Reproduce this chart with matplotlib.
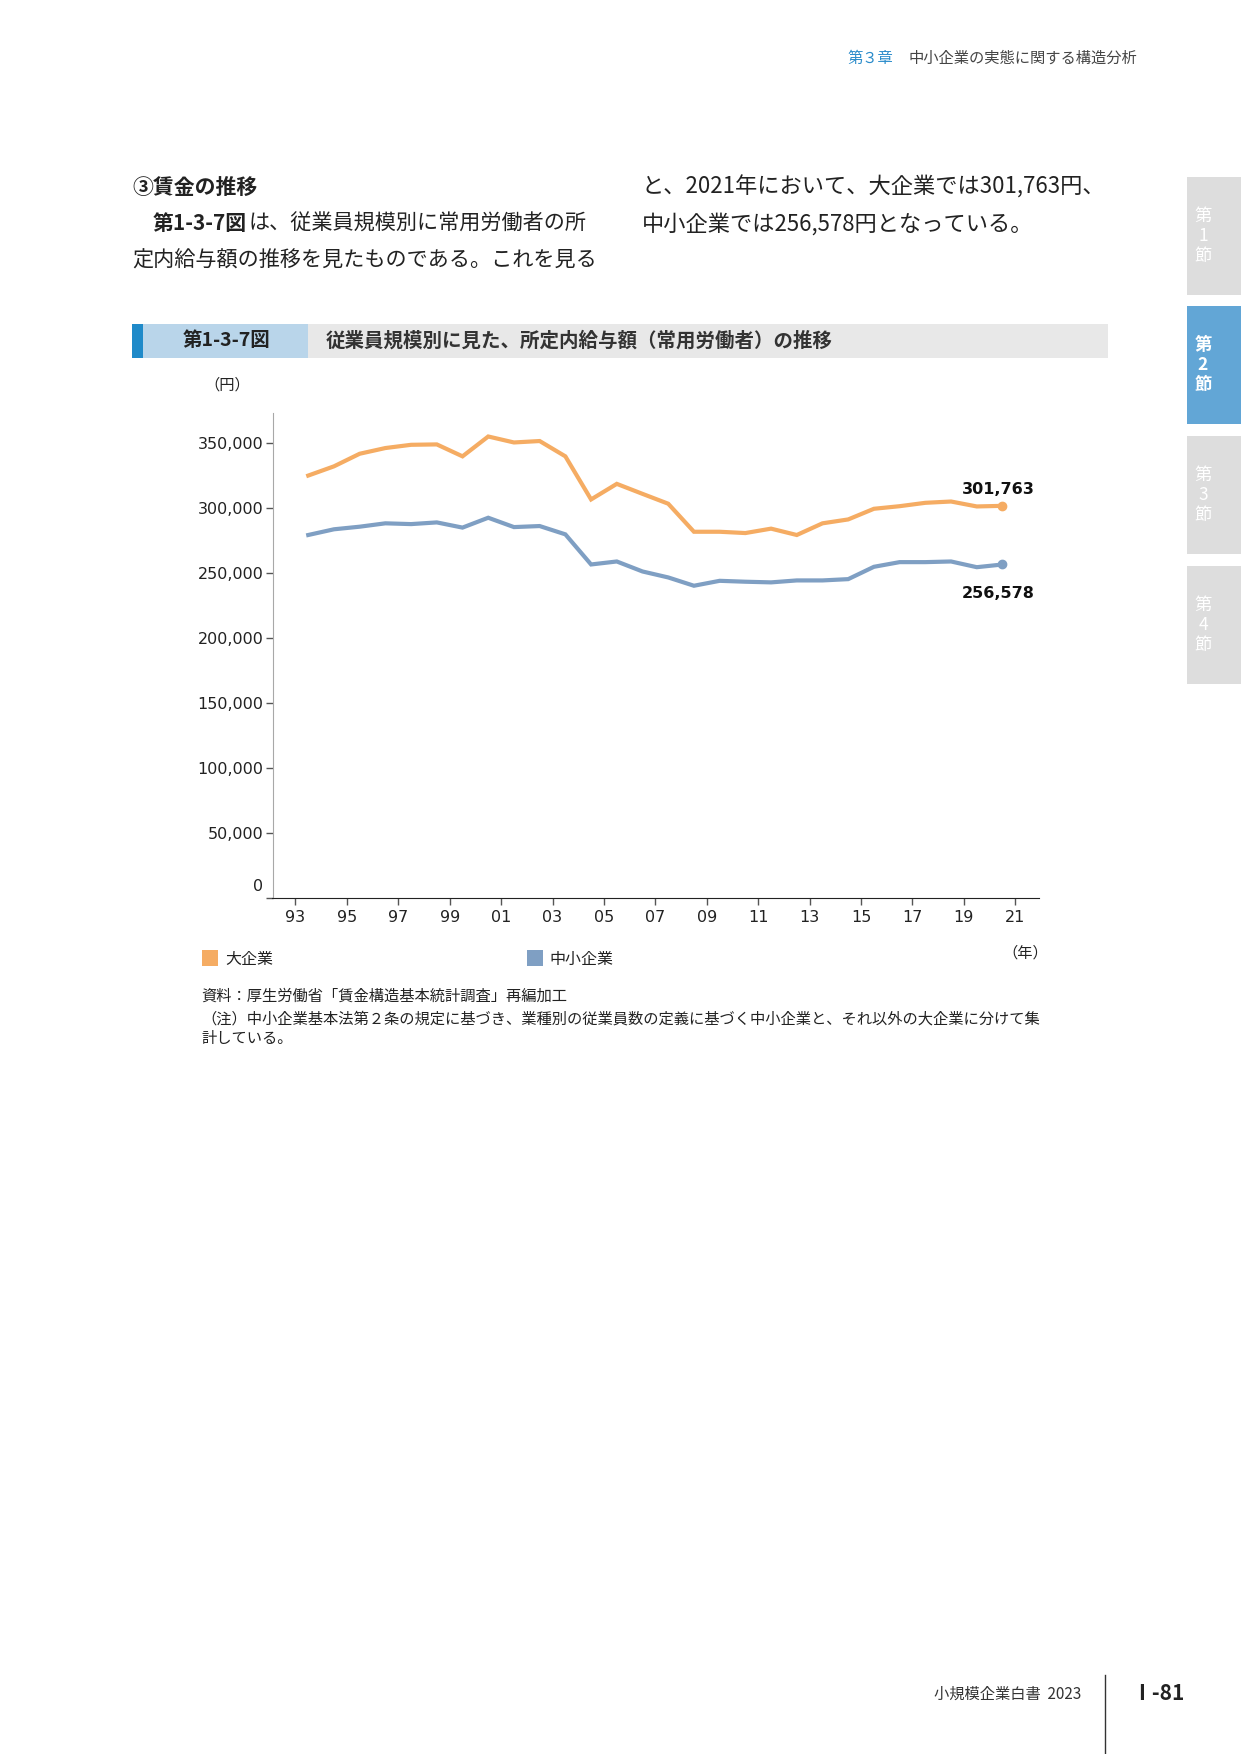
import numpy as np
import matplotlib.pyplot as plt
from matplotlib.patches import Rectangle
from matplotlib.lines import Line2D

JP = ['Noto Sans CJK JP', 'DejaVu Sans']
plt.rcParams['font.family'] = ['DejaVu Sans', 'Noto Sans CJK JP']

# data (yen / month)
years = list(range(1994, 2022))
large = [325100, 332200, 341900, 346300, 348800, 349100, 339900, 355200, 350600,
         351700, 339900, 306700, 318700, 311000, 303400, 281800, 281800, 280800,
         284200, 279300, 288300, 291300, 299500, 301500, 304100, 305100, 301300,
         301763]
small = [279300, 283700, 285700, 288300, 287700, 289000, 285000, 292600, 285400,
         286200, 279800, 256600, 258900, 251200, 246600, 240200, 244000, 243300,
         242800, 244300, 244300, 245300, 254800, 258400, 258400, 258900, 254500,
         256578]
series_names = ['大企業', '中小企業']
tick_years = list(range(1993, 2022, 2))
y_ticks = list(range(0, 350001, 50000))

c_large = '#F5AC63'
c_small = '#7F9FC3'

W, H = 1241, 1754
fig = plt.figure(figsize=(W / 100, H / 100), dpi=100)


def fx(px):
    return px / W


def fy(py):
    return 1 - py / H


def rect(x0, y0, x1, y1, color):
    fig.add_artist(Rectangle((fx(x0), fy(y1)), fx(x1) - fx(x0), fy(y0) - fy(y1),
                             transform=fig.transFigure, facecolor=color,
                             edgecolor='none'))


# ---- page header / body text
fig.text(fx(847), fy(58), '第３章', family=JP, fontsize=11, color='#2B8CCB', va='center')
fig.text(fx(909), fy(58), '中小企業の実態に関する構造分析', family=JP, fontsize=11,
         color='#444444', va='center')

fig.text(fx(132), fy(187), '③賃金の推移', family=JP, fontsize=15, weight='bold',
         color='#222222', va='center')
bold_ref = fig.text(fx(153), fy(224), '第1-3-7図', family=JP, fontsize=15,
                    weight='bold', color='#222222', va='center')
fig.add_artist(plt.Annotation('は、従業員規模別に常用労働者の所', xy=(1, 0.5),
                              xycoords=bold_ref, xytext=(1, 0),
                              textcoords='offset points', va='center',
                              family=JP, fontsize=15.2, color='#222222'))
fig.text(fx(132), fy(261), '定内給与額の推移を見たものである。これを見る', family=JP,
         fontsize=15.2, color='#222222', va='center')
fig.text(fx(642), fy(187), 'と、2021年において、大企業では301,763円、', family=JP,
         fontsize=16, color='#222222', va='center')
fig.text(fx(642), fy(224), '中小企業では256,578円となっている。', family=JP,
         fontsize=16, color='#222222', va='center')

# ---- title bar
rect(132, 324, 1108, 358, '#E8E8E8')
rect(143, 324, 308, 358, '#B9D5EA')
rect(132, 324, 143, 358, '#1F8AC9')
fig.text(fx(227), fy(341), '第1-3-7図', family=JP, fontsize=14, weight='bold',
         color='#222222', ha='center', va='center')
fig.text(fx(326), fy(341), '従業員規模別に見た、所定内給与額（常用労働者）の推移',
         family=JP, fontsize=14, weight='bold', color='#333333', va='center')

# ---- side tabs
tabs = [(177, 295, '1'), (306, 424, '2'), (436, 554, '3'), (566, 684, '4')]
for top, bot, num in tabs:
    active = num == '2'
    rect(1187, top, W, bot, '#62A6D6' if active else '#DDDDDD')
    cy = (top + bot) / 2
    for dy, ch in [(-20, '第'), (0, num), (20, '節')]:
        fig.text(fx(1203), fy(cy + dy), ch, family=JP, fontsize=12.5,
                 weight='bold' if active else 'normal', color='white',
                 ha='center', va='center')

# ---- chart
ax = fig.add_axes([fx(272.5), fy(897.5), fx(1039) - fx(272.5), fy(413) - fy(897.5)])
x = np.array(years) - 0.5
ax.plot(x, large, color=c_large, lw=3, solid_joinstyle='miter')
ax.plot(x, small, color=c_small, lw=3, solid_joinstyle='miter')
ax.plot(x[-1], large[-1], 'o', color=c_large, ms=6)
ax.plot(x[-1], small[-1], 'o', color=c_small, ms=6)

ax.annotate(f'{large[-1]:,}', xy=(x[-1], large[-1]), xytext=(-3, 12),
            textcoords='offset points', ha='center', va='center',
            fontsize=11.5, weight='bold', color='#111111')
ax.annotate(f'{small[-1]:,}', xy=(x[-1], small[-1]), xytext=(-3, -21),
            textcoords='offset points', ha='center', va='center',
            fontsize=11.5, weight='bold', color='#111111')

ax.set_xlim(1992.11, 2021.92)
ax.set_ylim(0, 373300)
ax.set_xticks(tick_years, [f'{y % 100:02d}' for y in tick_years])
ax.set_yticks(y_ticks, [f'{v:,}' if v else '' for v in y_ticks])
ax.annotate('0', xy=(0, 0), xycoords=('axes fraction', 'data'), xytext=(-7, 8),
            textcoords='offset points', ha='right', va='center', fontsize=11.5,
            color='#222222')

for s in ['top', 'right']:
    ax.spines[s].set_visible(False)
ax.spines['left'].set_color('#A8A8A8')
ax.spines['bottom'].set_color('#222222')
ax.tick_params(axis='y', direction='out', length=5, width=1, color='#555555',
               pad=1.5, labelsize=11.5, labelcolor='#222222')
ax.tick_params(axis='x', direction='out', length=5, width=1, color='#555555',
               pad=4, labelsize=11.5, labelcolor='#222222')

fig.text(fx(227), fy(385), '（円）', family=JP, fontsize=11, color='#222222',
         ha='center', va='center')
fig.text(fx(1025), fy(953), '（年）', family=JP, fontsize=11, color='#222222',
         ha='center', va='center')

# legend
rect(202, 950, 218, 966, c_large)
fig.text(fx(225), fy(959), series_names[0], family=JP, fontsize=11.5,
         color='#222222', va='center')
rect(527, 950, 543, 966, c_small)
fig.text(fx(549), fy(959), series_names[1], family=JP, fontsize=11.5,
         color='#222222', va='center')

# notes
fig.text(fx(201), fy(996), '資料：厚生労働省「賃金構造基本統計調査」再編加工', family=JP,
         fontsize=11, color='#222222', va='center')
fig.text(fx(201), fy(1019),
         '（注）中小企業基本法第２条の規定に基づき、業種別の従業員数の定義に基づく中小企業と、それ以外の大企業に分けて集',
         family=JP, fontsize=11, color='#222222', va='center')
fig.text(fx(201), fy(1039), '計している。', family=JP, fontsize=11, color='#222222',
         va='center')

# footer
fig.text(fx(1081), fy(1694), '小規模企業白書  2023', family=JP, fontsize=11,
         color='#333333', ha='right', va='center')
fig.add_artist(Line2D([fx(1105), fx(1105)], [fy(1675), 0], transform=fig.transFigure,
                      color='#333333', lw=1))
fig.text(fx(1131), fy(1694), 'Ⅰ-81', family=JP, fontsize=15, weight='bold',
         color='#222222', va='center')

fig.savefig('out.png', dpi=100, facecolor='white')
